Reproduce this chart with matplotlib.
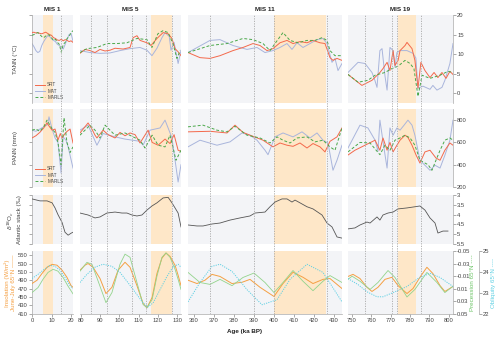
import matplotlib
matplotlib.use('Agg')
import matplotlib.pyplot as plt
from matplotlib.lines import Line2D

plt.rcParams['font.family'] = ['Liberation Sans', 'DejaVu Sans']

# ---------------- DATA ----------------
mis_titles = ["MIS 1", "MIS 5", "MIS 11", "MIS 19"]
xlims = [(0, 21), (79.5, 132), (357, 434), (748, 802.3)]
xticks = [[0, 10, 20], [80, 90, 100, 110, 120, 130],
          [360, 370, 380, 390, 400, 410, 420, 430],
          [750, 760, 770, 780, 790, 800]]
interglacials = [(5.5, 11), (116.5, 127.5), (400, 426), (773.8, 783)]
boundaries = [[15], [85, 93.5, 106.5, 114, 127.5], [368, 390, 400, 426.5],
              [757, 771, 773.5, 786]]

# TANN (degC)
tann_srt_1_age = list(range(0, 22))
tann_srt_1 = [15.5, 15.6, 15.4, 15.5, 15.3, 15.2, 15.4, 15.6, 15.3, 15.0, 14.8,
              14.2, 14.0, 13.6, 13.5, 13.8, 13.4, 13.7, 13.5, 13.2, 13.4, 13.0]
tann_mat_1_age = list(range(0, 22))
tann_mat_1 = [12.7, 11.9, 10.9, 10.4, 10.7, 12.2, 13.2, 14.0, 14.7, 14.5, 13.9,
              13.5, 13.2, 12.5, 12.2, 11.8, 11.3, 12.5, 13.8, 15.0, 15.3, 13.3]
tann_marls_1_age = list(range(0, 22))
tann_marls_1 = [14.8, 15.0, 15.3, 15.5, 15.0, 14.5, 14.2, 14.6, 15.0, 14.8, 14.2,
                13.5, 13.8, 13.0, 12.5, 10.5, 12.5, 13.0, 14.0, 14.5, 15.5, 16.0]

tann_srt_5_age = [79.5, 82.1, 84.7, 87.3, 89.9, 92.5, 95.1, 97.7, 101.9, 105.5, 107.1,
                  109.1, 110.7, 114.3, 116.4, 119.5, 122.7, 125.3, 127.3, 128.9, 130.5, 132]
tann_srt_5 = [10.2, 11.2, 10.9, 10.4, 11.2, 10.8, 11.0, 11.5, 11.3, 11.7, 14.2,
              14.7, 13.5, 12.9, 12.2, 14.0, 15.5, 15.2, 14.0, 11.4, 10.6, 9.6]
tann_mat_5_age = [79.5, 84.7, 89.9, 95.1, 100.3, 105.5, 110.7, 114.3, 116.9, 119.5,
                  122.1, 123.7, 125.9, 126.8, 128.4, 130.5, 132]
tann_mat_5 = [10.9, 10.4, 10.2, 10.3, 10.9, 11.4, 11.7, 11.0, 9.6, 11.5,
              14.2, 15.5, 14.5, 11.0, 13.0, 7.6, 11.0]
tann_marls_5_age = [79.5, 83.1, 88.3, 93.5, 98.7, 103.9, 109.1, 114.3, 116.9, 120.0,
                    122.7, 125.3, 127.8, 129.9, 131.5]
tann_marls_5 = [10.4, 11.4, 11.7, 12.7, 12.7, 12.9, 14.0, 13.7, 11.7, 15.2,
                16.0, 15.5, 12.7, 8.9, 10.9]

tann_srt_11_age = [357, 363, 368, 373, 379.5, 384.5, 389.5, 393, 396.5, 399.5, 403,
                   406.5, 409.5, 413, 416.5, 419.5, 423, 425.5, 428, 429.5, 431.5, 434]
tann_srt_11 = [10.4, 9.1, 8.9, 9.6, 10.9, 11.7, 12.7, 12.2, 10.9, 11.4, 12.9,
               13.5, 12.7, 13.2, 12.9, 13.5, 12.9, 12.7, 9.1, 8.4, 8.9, 8.4]
tann_mat_11_age = [357, 368, 373, 379.5, 386.5, 391.5, 395.5, 399.5, 403, 406.5, 409,
                   411.5, 414.5, 418, 421.5, 424.5, 426.5, 429, 430.5, 432, 434]
tann_mat_11 = [10.4, 13.5, 13.7, 12.2, 11.2, 11.7, 10.4, 10.9, 11.7, 12.7, 11.2,
               12.9, 11.7, 12.7, 13.7, 14.0, 12.7, 7.9, 8.9, 5.8, 7.6]
tann_marls_11_age = [357, 368, 376.5, 384.5, 389.5, 394.5, 398, 400.5, 404.5, 408, 412,
                     416.5, 420.5, 424, 426.5, 428, 430.5, 434]
tann_marls_11 = [10.4, 12.2, 12.7, 14.0, 13.7, 12.7, 10.9, 12.7, 15.5, 13.5, 12.9,
                 13.5, 13.5, 14.2, 13.5, 10.9, 9.6, 9.6]

tann_srt_19_age = [748, 755.2, 760.4, 764.5, 766.1, 768.2, 769.7, 771.3, 772.3, 773.9,
                   774.9, 777.5, 778.5, 781.1, 782.6, 784.2, 785.7, 787.8, 790.4,
                   792.5, 794.5, 796.6, 798.7, 800.7, 802.3]
tann_srt_19 = [4.8, 2.0, 3.3, 5.3, 6.3, 7.9, 5.8, 10.9, 7.1, 8.4,
               10.9, 12.2, 13.0, 11.4, 8.4, 1.3, 7.9, 5.8, 4.0,
               5.3, 4.0, 5.3, 3.8, 5.6, 4.8]
tann_mat_19_age = [748, 753.2, 756.8, 760.4, 761.9, 763, 764.5, 765.6, 767.1, 768.2,
                   769.7, 771.3, 772.3, 773.3, 774.9, 778.5, 781.6, 783.1, 784.2,
                   786.8, 790.4, 791.9, 794, 796.6, 798.1, 800.7, 802.3]
tann_mat_19 = [5.3, 7.9, 7.6, 5.3, 3.3, 1.5, 10.9, 11.4, 4.5, 0.8,
               11.7, 10.9, 6.6, 10.4, 10.9, 10.9, 10.2, 9.0, 1.3,
               1.8, 1.0, 2.0, 0.8, 1.5, 3.3, 7.6, 12.7]
tann_marls_19_age = [748, 753.2, 758.3, 762, 767.1, 770.7, 773.9, 777.5, 780.1, 782.1,
                     784.2, 786.3, 790.4, 795.6, 799.7, 802.3]
tann_marls_19 = [4.8, 2.8, 3.3, 4.6, 5.3, 6.3, 6.9, 8.4, 7.6, 6.3,
                 -0.8, 4.6, 3.8, 4.6, 5.6, 5.3]

# PANN (mm)
pann_srt_1_age = [0, 2, 4, 6, 7.7, 9, 10.3, 11.8, 13.3, 14.5, 15.4, 16.9, 18, 19.5, 21]
pann_srt_1 = [640, 660, 690, 730, 775, 740, 710, 720, 620, 680, 640, 680, 700, 720, 595]
pann_mat_1_age = [0, 2, 4, 6, 8, 8.7, 10.3, 11.8, 13.3, 14.9, 15.9, 17.4, 18.5, 21]
pann_mat_1 = [710, 700, 720, 740, 760, 830, 720, 640, 600, 325, 650, 620, 560, 370]
pann_marls_1_age = [0, 2, 4, 6, 7.7, 10.3, 11.8, 13.3, 14.9, 16.4, 17.9, 19.5, 21]
pann_marls_1 = [710, 720, 700, 740, 800, 720, 690, 600, 400, 820, 600, 510, 560]

pann_srt_5_age = [79.5, 83.7, 85.7, 87.3, 88.3, 91.5, 94.1, 97.7, 100.3, 102.9, 105.5,
                  108.1, 110.7, 114.9, 117, 120.1, 123.7, 126.3, 128.4, 130.5, 132]
pann_srt_5 = [685, 775, 720, 665, 640, 710, 670, 640, 690, 660, 685,
              670, 595, 710, 600, 575, 630, 590, 670, 530, 520]
pann_mat_5_age = [79.5, 83.7, 88.3, 91.5, 97.7, 102.9, 110.7, 112.3, 115.9, 121.1,
                  123.7, 125.3, 127.3, 130.5, 132]
pann_mat_5 = [710, 755, 575, 680, 650, 630, 610, 575, 710, 730, 800, 730, 640, 245, 400]
pann_marls_5_age = [79.5, 84.7, 87.3, 89.9, 92.5, 97.7, 102.9, 110.7, 113.3, 117,
                    120.1, 123.7, 126.3, 129.4, 132]
pann_marls_5 = [665, 755, 710, 640, 755, 665, 685, 620, 550, 665, 575, 560, 665, 440, 530]

pann_srt_11_age = [357, 368, 376.5, 380.5, 384.5, 388, 394.5, 399.5, 403, 406.5, 409.5,
                   413, 416.5, 419.5, 423, 425.5, 428, 431.5, 434]
pann_srt_11 = [695, 700, 685, 755, 690, 665, 620, 560, 595, 575, 565,
               595, 550, 590, 560, 515, 610, 650, 730]
pann_mat_11_age = [357, 363, 371.5, 378, 384, 388, 391.5, 395.5, 397, 400.5, 404.5,
                   409.5, 414, 418, 421.5, 424.5, 427, 429.5, 431.5, 434]
pann_mat_11 = [560, 620, 575, 605, 685, 665, 620, 530, 490, 650, 685,
               650, 695, 640, 685, 620, 595, 350, 440, 575]
pann_marls_11_age = [357, 364.5, 371.5, 376.5, 380.5, 386.5, 393, 398, 401.5, 404.5,
                     408, 411.5, 416.5, 420.5, 424.5, 428, 430.5, 434]
pann_marls_11 = [740, 755, 710, 695, 745, 665, 640, 595, 650, 620,
                 595, 640, 650, 605, 620, 560, 530, 730]

pann_srt_19_age = [748, 751.6, 756.8, 762, 764.5, 766.1, 768.2, 769.7, 771.3, 773.3,
                   774.9, 777.5, 779, 781.1, 783.2, 785.2, 787.8, 790.4, 793.5, 795.6,
                   798.1, 800.7, 802.3]
pann_srt_19 = [487, 530, 575, 620, 530, 640, 530, 600, 515, 575,
               620, 665, 645, 575, 487, 415, 515, 530, 460, 440,
               530, 595, 575]
pann_mat_19_age = [748, 754.2, 758.3, 762, 763.5, 764.5, 766.6, 768.2, 769.7, 771.3,
                   773.3, 774.9, 777, 779, 781.1, 782.6, 785.2, 787.8, 790.4, 793,
                   795.6, 798.1, 800.7, 802.3]
pann_mat_19 = [550, 755, 730, 620, 520, 800, 550, 370, 730, 665,
               730, 710, 755, 800, 755, 665, 440, 395, 350, 395,
               370, 485, 620, 800]
pann_marls_19_age = [748, 754.2, 759.4, 764.5, 767.1, 769.7, 772.3, 774.9, 777.5, 780.1,
                     782.6, 785.2, 789.4, 791.4, 795.6, 798.1, 800.7, 802.3]
pann_marls_19 = [515, 600, 595, 490, 575, 530, 620, 640, 665, 640,
                 575, 440, 400, 350, 530, 620, 640, 620]

# benthic d18O Atlantic stack (permil)
d18o_1_age = [0, 4.1, 7.7, 10.3, 11.8, 13.3, 15.4, 16.9, 18.5, 20, 21]
d18o_1 = [3.2, 3.3, 3.3, 3.4, 3.66, 4.0, 4.4, 4.9, 5.05, 4.95, 4.9]
d18o_5_age = [79.5, 83.7, 87.3, 89.9, 93.5, 97.7, 101.3, 103.9, 106.5, 109.1, 111.7,
              114.3, 116.9, 119.5, 122.7, 125.3, 127.3, 128.9, 130.5, 132]
d18o_5 = [3.92, 4.02, 4.17, 4.12, 3.92, 3.87, 3.92, 3.92, 4.02, 4.07, 4.02,
          3.77, 3.56, 3.4, 3.15, 3.12, 3.4, 3.66, 3.92, 4.63]
d18o_11_age = [357, 361.5, 364.5, 369, 373, 378, 383, 388, 390.5, 395.5, 398, 400.5,
               404, 406.5, 409, 410.5, 413, 416.5, 419.5, 424, 426.5, 429, 431.5, 434]
d18o_11 = [4.53, 4.58, 4.58, 4.48, 4.43, 4.28, 4.17, 4.07, 3.92, 3.87, 3.6, 3.36,
           3.2, 3.2, 3.36, 3.26, 3.4, 3.6, 3.71, 4.02, 4.43, 4.63, 5.14, 5.2]
d18o_19_age = [748, 751.6, 754.2, 757.8, 759.4, 763, 764.5, 766.1, 768.7, 771.3,
               773.9, 778.5, 782.6, 785.2, 787.8, 790.4, 793, 794.5, 797.1, 799.7]
d18o_19 = [4.73, 4.68, 4.53, 4.38, 4.43, 4.12, 4.28, 4.02, 3.92, 3.87,
           3.71, 3.66, 3.6, 3.56, 3.77, 4.17, 4.43, 4.94, 4.84, 4.84]

# June-July insolation 65N (W/m2)
insol_1_age = [0, 2.6, 5.1, 7.7, 10.3, 12.8, 15.4, 17.9, 20, 21]
insol_1 = [482, 490, 506, 521, 528, 526, 514, 497, 477, 473]
insol_5_age = [79.5, 82.1, 83.7, 86.3, 89.9, 93, 96.1, 99.3, 102.9, 105.5, 109.1,
               112.3, 114.3, 117, 119.5, 122.1, 124.2, 126.3, 128.9, 130.5, 132]
insol_5 = [514, 526, 530, 521, 494, 458, 473, 514, 533, 521, 477,
           434, 424, 449, 506, 543, 555, 547, 526, 502, 477]
insol_11_age = [357, 361.5, 365.5, 369, 373, 379, 384, 388, 393, 400, 404.5,
                409.5, 414.5, 419.5, 424.5, 428, 434]
insol_11 = [490, 482, 490, 504, 499, 482, 485, 492, 473, 451, 482,
            509, 497, 482, 492, 494, 470]
insol_19_age = [748, 750.6, 754.2, 757.8, 760.4, 763.5, 767.1, 770.7, 773.9, 778.5,
                781.6, 785.2, 788.8, 791.9, 795.6, 798.1, 802.3]
insol_19 = [499, 504, 494, 473, 463, 473, 492, 497, 477, 458,
            470, 497, 521, 506, 477, 463, 475]

# precession index 65N
prec_1_age = [0, 3.1, 5.6, 8.2, 10.8, 13.3, 15.9, 18.5, 21]
prec_1 = [0.016, 0.008, -0.005, -0.016, -0.021, -0.018, -0.008, 0.006, 0.018]
prec_5_age = [79.5, 83.1, 85.7, 89.9, 93, 96.1, 100.3, 102.9, 105.5, 109.1, 112.3,
              114.3, 117, 119.5, 122.1, 124.2, 126.3, 128.9, 130.5, 132]
prec_5 = [-0.018, -0.032, -0.029, 0.006, 0.032, 0.016, -0.029, -0.045, -0.040, 0.0,
          0.035, 0.040, 0.027, -0.010, -0.040, -0.047, -0.040, -0.021, -0.005, 0.011]
prec_11_age = [357, 363, 368, 373, 379, 384.5, 390, 395.5, 400, 404.5, 409.5,
               414.5, 419.5, 424.5, 428, 434]
prec_11 = [-0.016, 0.0, 0.003, -0.005, 0.005, -0.008, -0.015, 0.0, 0.016, 0.0,
           -0.019, -0.002, 0.013, -0.002, -0.011, 0.0]
prec_19_age = [748, 750.1, 754.2, 759.4, 763.5, 768.7, 772.3, 778.5, 782.6, 788.8,
               794, 798.1, 802.3]
prec_19 = [-0.005, -0.010, -0.002, 0.011, 0.0, -0.019, -0.008, 0.023, 0.011, -0.016,
           0.0, 0.016, 0.006]

# obliquity (deg)
obl_1_age = [0, 3.1, 5.6, 9.2, 11.8, 14.4, 16.9, 19.5, 21]
obl_1 = [23.69, 23.89, 24.08, 24.32, 24.27, 24.08, 23.74, 23.35, 23.21]
obl_5_age = [79.5, 83.1, 87.3, 91.5, 96.1, 100.3, 104.4, 109.1, 112.3, 114.9, 117.5,
             121.1, 124.7, 127.8, 130.5, 132]
obl_5 = [23.5, 23.89, 24.23, 24.37, 24.27, 23.98, 23.5, 22.92, 22.53, 22.34, 22.53,
         23.16, 23.79, 24.23, 24.37, 24.23]
obl_11_age = [357, 363, 369, 373, 379, 386.5, 394, 401.5, 408, 416.5, 424.5, 434]
obl_11 = [22.58, 23.5, 24.27, 24.37, 24.03, 23.16, 22.44, 22.68, 23.65, 24.37, 23.98, 22.58]
obl_19_age = [748, 753.2, 757.8, 763, 766.1, 771.3, 778.5, 784.2, 790.4, 795.6, 802.3]
obl_19 = [23.69, 23.4, 23.06, 22.82, 22.82, 23.02, 23.31, 23.69, 23.94, 23.74, 23.31]

# ---------------- STYLE ----------------
C_SRT = '#f4694b'
C_MAT = '#a9b5dc'
C_MARLS = '#4aa84a'
C_D18O = '#555555'
C_INS = '#f5a043'
C_PREC = '#93d48c'
C_OBL = '#5fd0e3'
BG = '#f3f4f7'
SPAN = '#fee7c8'
TICKC = '#888888'
LAB = '#444444'
FS = 4.2

W, H = 500, 339
fig = plt.figure(figsize=(W / 100, H / 100), dpi=100)


def add_ax(px0, px1, py0, py1, **kw):
    return fig.add_axes([px0 / W, 1 - py1 / H, (px1 - px0) / W, (py1 - py0) / H], **kw)


col_px = [(32, 73), (80, 181), (188, 342), (348, 453)]
row_px = [(15, 103), (109, 187), (195, 244), (251, 314)]

tann = [(tann_srt_1_age, tann_srt_1, tann_mat_1_age, tann_mat_1, tann_marls_1_age, tann_marls_1),
        (tann_srt_5_age, tann_srt_5, tann_mat_5_age, tann_mat_5, tann_marls_5_age, tann_marls_5),
        (tann_srt_11_age, tann_srt_11, tann_mat_11_age, tann_mat_11, tann_marls_11_age, tann_marls_11),
        (tann_srt_19_age, tann_srt_19, tann_mat_19_age, tann_mat_19, tann_marls_19_age, tann_marls_19)]
pann = [(pann_srt_1_age, pann_srt_1, pann_mat_1_age, pann_mat_1, pann_marls_1_age, pann_marls_1),
        (pann_srt_5_age, pann_srt_5, pann_mat_5_age, pann_mat_5, pann_marls_5_age, pann_marls_5),
        (pann_srt_11_age, pann_srt_11, pann_mat_11_age, pann_mat_11, pann_marls_11_age, pann_marls_11),
        (pann_srt_19_age, pann_srt_19, pann_mat_19_age, pann_mat_19, pann_marls_19_age, pann_marls_19)]
d18o = [(d18o_1_age, d18o_1), (d18o_5_age, d18o_5), (d18o_11_age, d18o_11), (d18o_19_age, d18o_19)]
insol = [(insol_1_age, insol_1), (insol_5_age, insol_5), (insol_11_age, insol_11), (insol_19_age, insol_19)]
prec = [(prec_1_age, prec_1), (prec_5_age, prec_5), (prec_11_age, prec_11), (prec_19_age, prec_19)]
obl = [(obl_1_age, obl_1), (obl_5_age, obl_5), (obl_11_age, obl_11), (obl_19_age, obl_19)]


def base(ax, c):
    ax.set_facecolor(BG)
    ax.set_xlim(*xlims[c])
    for s in ax.spines.values():
        s.set_visible(False)
    ax.axvspan(*interglacials[c], color=SPAN, lw=0, zorder=0)
    ax.tick_params(axis='both', length=2, width=0.5, color=TICKC, labelsize=FS,
                   labelcolor=LAB, pad=1)
    ax.set_xticks([])
    ax.set_yticks([])


def yaxis_style(ax, side, ticks):
    ax.spines[side].set_visible(True)
    ax.spines[side].set_color('#aaaaaa')
    ax.spines[side].set_linewidth(0.5)
    ax.set_yticks(ticks)
    if side == 'right':
        ax.yaxis.tick_right()


ylims = [(-2.5, 20), (200, 900), (5.5, 3)]
yticks = [[0, 5, 10, 15, 20], [200, 400, 600, 800], [3, 3.5, 4, 4.5, 5, 5.5]]

for c in range(4):
    x0, x1 = col_px[c]
    # rows 1-2: TANN / PANN
    for r, dat in enumerate([tann, pann]):
        ax = add_ax(x0, x1, *row_px[r])
        base(ax, c)
        a1, v1, a2, v2, a3, v3 = dat[c]
        ax.plot(a1, v1, color=C_SRT, lw=0.7, label='SRT', zorder=3)
        ax.plot(a2, v2, color=C_MAT, lw=0.7, label='MAT', zorder=2)
        ax.plot(a3, v3, color=C_MARLS, lw=0.7, ls=(0, (3, 2)), label='MARLS', zorder=4)
        ax.set_ylim(*ylims[r])
        if c == 0:
            yaxis_style(ax, 'left', yticks[r])
            ax.set_yticklabels([])
            ax.legend(loc='lower left', fontsize=3.3, frameon=False, handlelength=2.2,
                      handletextpad=0.4, labelspacing=0.25, borderaxespad=0.3,
                      labelcolor=LAB)
        if c == 3:
            yaxis_style(ax, 'right', yticks[r])
            ax.set_yticklabels([('%g' % t) for t in yticks[r]])
        if r == 0:
            ax.set_title(mis_titles[c], fontsize=4.6, fontweight='bold', pad=3, color='#222222')
    # row 3: d18O
    ax = add_ax(x0, x1, *row_px[2])
    base(ax, c)
    ax.plot(d18o[c][0], d18o[c][1], color=C_D18O, lw=0.6, zorder=3)
    ax.set_ylim(*ylims[2])
    if c == 0:
        yaxis_style(ax, 'left', yticks[2])
        ax.set_yticklabels([])
    if c == 3:
        yaxis_style(ax, 'right', yticks[2])
        ax.set_yticklabels([('%g' % t) for t in yticks[2]])
    # row 4: insolation / precession / obliquity
    ax = add_ax(x0, x1, *row_px[3])
    base(ax, c)
    ax.plot(insol[c][0], insol[c][1], color=C_INS, lw=0.7, zorder=4)
    ax.set_ylim(409, 560)
    ax.spines['bottom'].set_visible(True)
    ax.spines['bottom'].set_color('#aaaaaa')
    ax.spines['bottom'].set_linewidth(0.5)
    ax.set_xticks(xticks[c])
    ax.set_xticklabels([str(t) for t in xticks[c]])
    if c == 0:
        yaxis_style(ax, 'left', [410, 430, 450, 470, 490, 510, 530, 550])
        ax.set_yticklabels([str(t) for t in [410, 430, 450, 470, 490, 510, 530, 550]])
    axp = ax.twinx()
    axp.set_xlim(*xlims[c])
    for s in axp.spines.values():
        s.set_visible(False)
    axp.plot(prec[c][0], prec[c][1], color=C_PREC, lw=0.6, zorder=3)
    axp.set_ylim(0.05, -0.05)
    axp.set_yticks([])
    axo = ax.twinx()
    axo.set_xlim(*xlims[c])
    for s in axo.spines.values():
        s.set_visible(False)
    axo.plot(obl[c][0], obl[c][1], color=C_OBL, lw=0.7, ls=(0, (1.2, 1.2)), zorder=3)
    axo.set_ylim(22, 25)
    axo.set_yticks([])
    if c == 3:
        for a in (axp, axo):
            a.tick_params(axis='y', length=2, width=0.5, color=TICKC, labelsize=FS,
                          labelcolor=LAB, pad=1)
        axp.spines['right'].set_visible(True)
        axp.spines['right'].set_color('#aaaaaa')
        axp.spines['right'].set_linewidth(0.5)
        pt = [-0.05, -0.03, -0.01, 0.01, 0.03, 0.05]
        axp.set_yticks(pt)
        axp.set_yticklabels(['%.2f' % t for t in pt])
        axo.spines['right'].set_visible(True)
        axo.spines['right'].set_position(('outward', 18.5))
        axo.spines['right'].set_color('#aaaaaa')
        axo.spines['right'].set_linewidth(0.5)
        axo.set_yticks([22, 23, 24, 25])
        axo.set_yticklabels(['22', '23', '24', '25'])

    # dotted boundary lines across all rows
    ov = add_ax(x0, x1, row_px[0][0], row_px[3][1])
    ov.set_xlim(*xlims[c])
    ov.axis('off')
    ov.patch.set_visible(False)
    for b in boundaries[c]:
        ov.axvline(b, color='#a8a8a8', lw=0.6, ls=(0, (1.5, 1.5)), zorder=1)

# labels
def ftext(px, py, s, **kw):
    fig.text(px / W, 1 - py / H, s, **kw)

ftext(15, 59, 'TANN (°C)', rotation=90, ha='center', va='center', fontsize=FS + 0.3, color=LAB)
ftext(15, 148, 'PANN (mm)', rotation=90, ha='center', va='center', fontsize=FS + 0.3, color=LAB)
ftext(14, 220, '$\\delta^{18}$O$_c$\nAtlantic stack (‰)', rotation=90, ha='center', va='center',
      fontsize=FS + 0.3, color=LAB, linespacing=1.1)
ftext(10, 283, 'Insolation (W/m²)\nJune-July 65°N ——', rotation=90, ha='center', va='center',
      fontsize=FS + 0.3, color=C_INS, linespacing=1.1)
ftext(472, 283, 'Precession 65°N ----', rotation=90, ha='center', va='center',
      fontsize=FS + 0.3, color='#6cc466')
ftext(493, 283, 'Obliquity 65°N ----', rotation=90, ha='center', va='center',
      fontsize=FS + 0.3, color=C_OBL)
ftext(245, 331, 'Age (ka BP)', ha='center', va='center', fontsize=FS + 0.3,
      fontweight='bold', color='#222222')

fig.savefig('out.png', dpi=100)
